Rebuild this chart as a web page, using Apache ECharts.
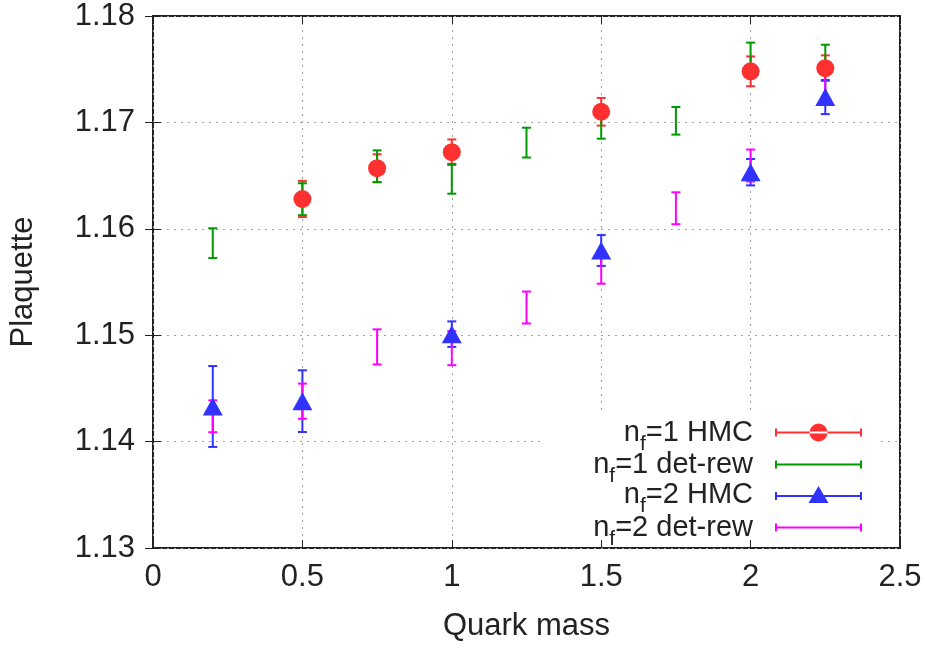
<!DOCTYPE html>
<html>
<head>
<meta charset="utf-8">
<script src="https://cdn.jsdelivr.net/npm/echarts@6/dist/echarts.min.js"></script>
<style>html,body{margin:0;padding:0;background:#fff}#c{width:925px;height:648px}</style>
</head>
<body>
<div id="c"></div>
<script>
// ---- data ----
const seriesNames = ['nf=1 HMC', 'nf=1 det-rew', 'nf=2 HMC', 'nf=2 det-rew'];
const xTicks = [0, 0.5, 1, 1.5, 2, 2.5];
const yTicks = [1.13, 1.14, 1.15, 1.16, 1.17, 1.18];

const xHmc1 = [0.5, 0.75, 1.0, 1.5, 2.0, 2.25];
const yHmc1 = [1.1628, 1.1657, 1.1672, 1.1710, 1.1748, 1.1751];
const eHmc1 = [0.0017, 0.0013, 0.0012, 0.0013, 0.0014, 0.0012];

const xRew1 = [0.2, 0.5, 0.75, 1.0, 1.25, 1.5, 1.75, 2.0, 2.25];
const yRew1 = [1.15865, 1.16278, 1.16587, 1.1647, 1.1681, 1.16977, 1.17015, 1.1763, 1.1760];
const eRew1 = [0.0014, 0.0015, 0.0015, 0.0014, 0.0014, 0.0013, 0.0013, 0.0012, 0.0013];

const xHmc2 = [0.2, 0.5, 1.0, 1.5, 2.0, 2.25];
const yHmc2 = [1.1433, 1.1438, 1.1501, 1.15796, 1.16532, 1.17238];
const eHmc2 = [0.0038, 0.0029, 0.0012, 0.00145, 0.00124, 0.0016];

const xRew2 = [0.2, 0.5, 0.75, 1.0, 1.25, 1.5, 1.75, 2.0, 2.25];
const yRew2 = [1.14238, 1.1438, 1.1489, 1.14878, 1.1526, 1.1563, 1.16193, 1.16595, 1.1734];
const eRew2 = [0.0015, 0.00165, 0.00165, 0.0016, 0.0015, 0.00146, 0.0015, 0.0015, 0.0014];

// ---- styling ----
const colors = ['#ff3030', '#009a00', '#3232ff', '#ff00ff'];
const FONT = 'Liberation Sans, Arial, Helvetica, sans-serif';
const TXT = '#222';

function rows(xs, ys, es) { return xs.map((x, i) => [x, ys[i], es[i]]); }

function errRender(params, api) {
  const x = api.value(0), y = api.value(1), e = api.value(2);
  const t = api.coord([x, y + e]);
  const b = api.coord([x, y - e]);
  const hw = 4.5;
  const style = { stroke: api.visual('color'), lineWidth: 2, fill: null };
  return {
    type: 'group',
    children: [
      { type: 'line', shape: { x1: t[0], y1: t[1], x2: b[0], y2: b[1] }, style: style },
      { type: 'line', shape: { x1: t[0] - hw, y1: t[1], x2: t[0] + hw, y2: t[1] }, style: style },
      { type: 'line', shape: { x1: b[0] - hw, y1: b[1], x2: b[0] + hw, y2: b[1] }, style: style }
    ]
  };
}

function errSeries(name, data, color) {
  return {
    type: 'custom', name: name, renderItem: errRender, data: data,
    itemStyle: { color: color }, encode: { x: 0, y: 1 }, z: 2
  };
}
function markSeries(name, data, color, symbol, size) {
  return {
    type: 'scatter', name: name, data: data.map(d => [d[0], d[1]]),
    symbol: symbol, symbolSize: size, itemStyle: { color: color, opacity: 1 }, z: 2
  };
}

const dHmc1 = rows(xHmc1, yHmc1, eHmc1);
const dRew1 = rows(xRew1, yRew1, eRew1);
const dHmc2 = rows(xHmc2, yHmc2, eHmc2);
const dRew2 = rows(xRew2, yRew2, eRew2);

// legend icons (error-bar line with caps, optional marker)
const W = 87;
const lineBase = (cy) => 'M0,' + (cy - 1) + 'L' + W + ',' + (cy - 1) + 'L' + W + ',' + (cy + 1) + 'L0,' + (cy + 1) + 'Z' +
  'M0,' + (cy - 4) + 'L2,' + (cy - 4) + 'L2,' + (cy + 4) + 'L0,' + (cy + 4) + 'Z' +
  'M' + (W - 2) + ',' + (cy - 4) + 'L' + W + ',' + (cy - 4) + 'L' + W + ',' + (cy + 4) + 'L' + (W - 2) + ',' + (cy + 4) + 'Z';
const iconCircle = 'path://' + lineBase(9) + 'M' + (W / 2 - 9) + ',9A9,9 0 1,0 ' + (W / 2 + 9) + ',9A9,9 0 1,0 ' + (W / 2 - 9) + ',9Z';
const iconLine = 'path://' + lineBase(4);
const iconTri = 'path://' + lineBase(10) + 'M' + (W / 2 - 10) + ',17L' + (W / 2) + ',0L' + (W / 2 + 10) + ',17Z';
const icons = [iconCircle, iconLine, iconTri, iconLine];

const legendLabels = {
  'nf=1 HMC': '{a|n}{b|f}{a|=1 HMC}',
  'nf=1 det-rew': '{a|n}{b|f}{a|=1 det-rew}',
  'nf=2 HMC': '{a|n}{b|f}{a|=2 HMC}',
  'nf=2 det-rew': '{a|n}{b|f}{a|=2 det-rew}'
};
const rowY = [427, 459, 489, 522];

const legends = seriesNames.map((n, i) => ({
  data: [{ name: n, icon: icons[i] }],
  orient: 'vertical', align: 'right', right: 925 - 862, top: rowY[i] - 9,
  itemWidth: W, itemHeight: 18, padding: 0, itemGap: 0, selectedMode: false,
  formatter: (name) => legendLabels[name],
  textStyle: {
    color: TXT, fontFamily: FONT, fontSize: 29, padding: [0, 17, 0, 0],
    rich: {
      a: { fontSize: 29, fontFamily: FONT, color: TXT },
      b: { fontSize: 21, fontFamily: FONT, color: TXT, padding: [24, 0, 0, 0] }
    }
  }
}));

const gridLine = { show: true, lineStyle: { color: '#a0a0a0', type: [2, 5], width: 1 } };
const tickStyle = { show: true, inside: true, length: 8, lineStyle: { color: TXT, width: 1 } };

const option = {
  animation: false,
  backgroundColor: '#fff',
  grid: { left: 153, right: 25, top: 16, bottom: 100, show: true, borderColor: TXT, borderWidth: 2, backgroundColor: 'transparent' },
  xAxis: [
    {
      type: 'value', min: xTicks[0], max: xTicks[xTicks.length - 1], interval: 0.5,
      name: 'Quark mass', nameLocation: 'middle', nameGap: 63,
      nameTextStyle: { fontSize: 31, fontFamily: FONT, color: TXT },
      axisLine: { show: false }, axisTick: tickStyle, splitLine: gridLine,
      axisLabel: { fontSize: 31, fontFamily: FONT, color: TXT, margin: 14, formatter: v => String(+v.toFixed(2)) }
    },
    {
      type: 'value', position: 'top', min: xTicks[0], max: xTicks[xTicks.length - 1], interval: 0.5,
      axisLine: { show: false }, axisTick: tickStyle, splitLine: { show: false }, axisLabel: { show: false }
    }
  ],
  yAxis: [
    {
      type: 'value', min: yTicks[0], max: yTicks[yTicks.length - 1], interval: 0.01,
      name: 'Plaquette', nameLocation: 'middle', nameGap: 114, nameRotate: 90,
      nameTextStyle: { fontSize: 31, fontFamily: FONT, color: TXT },
      axisLine: { show: false }, axisTick: tickStyle, splitLine: gridLine,
      axisLabel: { fontSize: 31, fontFamily: FONT, color: TXT, margin: 18, formatter: v => v.toFixed(2) }
    },
    {
      type: 'value', position: 'right', min: yTicks[0], max: yTicks[yTicks.length - 1], interval: 0.01,
      axisLine: { show: false }, axisTick: tickStyle, splitLine: { show: false }, axisLabel: { show: false }
    }
  ],
  legend: legends,
  graphic: [{ type: 'rect', shape: { x: 540, y: 410, width: 340, height: 128 }, style: { fill: '#fff' }, z: 1 }],
  series: [
    errSeries(seriesNames[0], dHmc1, colors[0]),
    markSeries(seriesNames[0], dHmc1, colors[0], 'circle', 18),
    errSeries(seriesNames[1], dRew1, colors[1]),
    errSeries(seriesNames[2], dHmc2, colors[2]),
    markSeries(seriesNames[2], dHmc2, colors[2], 'triangle', [20, 18]),
    errSeries(seriesNames[3], dRew2, colors[3])
  ]
};

const chart = echarts.init(document.getElementById('c'), null, { renderer: 'canvas' });
chart.setOption(option);
</script>
</body>
</html>
